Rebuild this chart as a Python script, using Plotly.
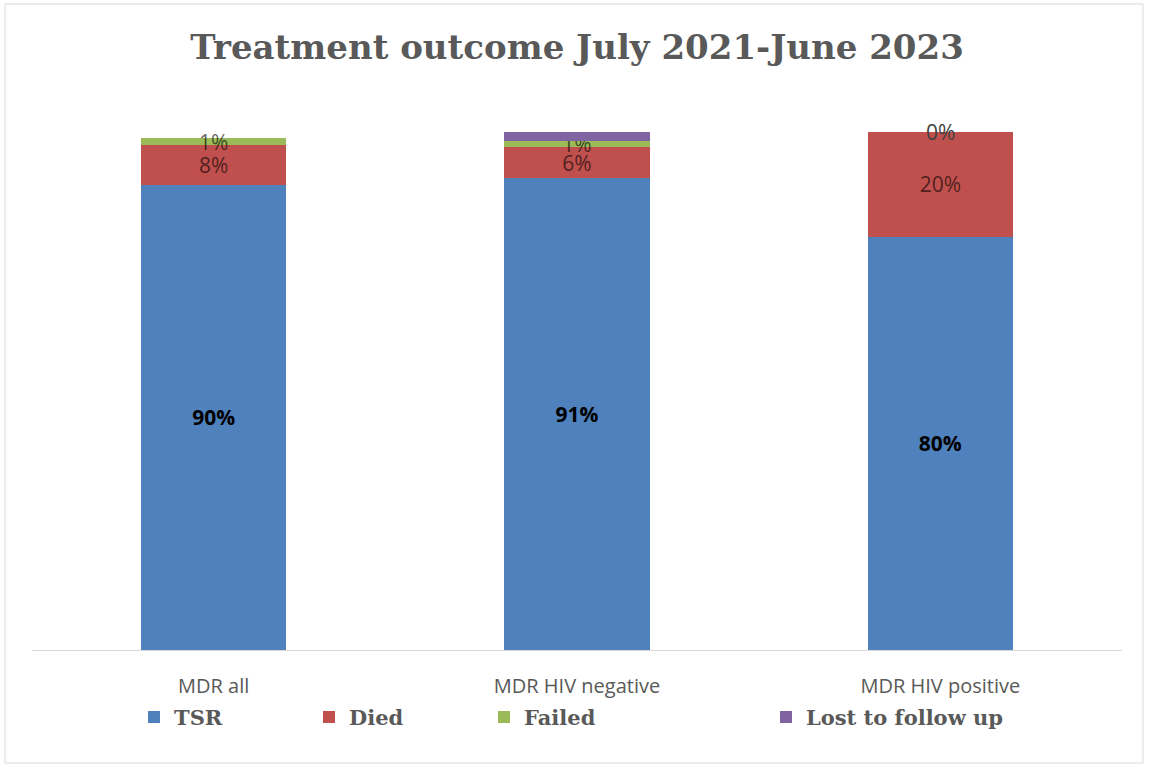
import plotly.graph_objects as go

# Treatment outcome shares (%) per cohort
categories = ["MDR all", "MDR HIV negative", "MDR HIV positive"]
tsr = [89.8, 91.1, 79.8]
died = [7.6, 6.0, 20.2]
failed = [1.4, 1.2, 0.0]
lost = [0.0, 1.7, 0.0]

# which segment labels are printed
show_tsr = [True, True, True]
show_died = [True, True, True]
show_failed = [True, True, True]
show_lost = [False, False, False]

seg_font = dict(color="rgba(0,0,0,0.62)", family="Open Sans", size=21)
series = [
    ("TSR", tsr, show_tsr, "#4f81bd", dict(color="#000000", family="Open Sans", size=19, weight="bold"), "legend"),
    ("Died", died, show_died, "#c0504d", seg_font, "legend2"),
    ("Failed", failed, show_failed, "#9bbb59", seg_font, "legend3"),
    ("Lost to follow up", lost, show_lost, "#8064a2", seg_font, "legend4"),
]

fig = go.Figure()
base = [0.0] * len(categories)
annotations = []
for name, vals, show, color, tfont, leg in series:
    # zero-height segments cannot hold inside text, so their label sits on the stack top
    labels = [f"{v:.0f}%" if (s and v > 0) else "" for v, s in zip(vals, show)]
    for i, (v, s) in enumerate(zip(vals, show)):
        if s and v == 0:
            annotations.append(dict(
                x=categories[i], y=base[i], xref="x", yref="y",
                text=f"{v:.0f}%", showarrow=False, yanchor="middle",
                font=dict(color="#404040", family="Open Sans", size=21),
            ))
    fig.add_trace(go.Bar(
        name=name,
        x=categories,
        y=vals,
        marker=dict(color=color, line=dict(width=0)),
        text=labels,
        textposition="inside",
        insidetextanchor="middle",
        textfont=tfont,
        legend=leg,
        hoverinfo="skip",
    ))
    base = [b + v for b, v in zip(base, vals)]

legend_font = dict(family="DejaVu Serif", size=21, color="#595959", weight="bold")
legend_common = dict(orientation="h", yanchor="middle", y=-0.13, xanchor="left",
                     font=legend_font, bgcolor="rgba(0,0,0,0)", borderwidth=0)

fig.update_layout(
    barmode="stack",
    bargap=0.6,
    width=1149,
    height=769,
    margin=dict(l=32, r=27, t=132, b=119),
    paper_bgcolor="white",
    plot_bgcolor="white",
    uniformtext=dict(mode="show", minsize=21),
    title=dict(
        text="Treatment outcome July 2021-June 2023",
        font=dict(family="DejaVu Serif", size=34, color="#595959", weight="bold"),
        x=0.5, xref="paper", xanchor="center",
        y=1 - 47 / 769, yref="container", yanchor="middle",
    ),
    xaxis=dict(
        showline=True, linecolor="#d9d9d9", linewidth=1,
        showgrid=False, ticks="", ticklabelstandoff=18,
        tickfont=dict(family="Open Sans", size=20, color="#595959"),
    ),
    yaxis=dict(range=[0, 100], visible=False, showgrid=False),
    legend=dict(x=(168 - 34 - 32) / 1090, **legend_common),
    legend2=dict(x=(343 - 34 - 32) / 1090, **legend_common),
    legend3=dict(x=(518 - 34 - 32) / 1090, **legend_common),
    legend4=dict(x=(800 - 34 - 32) / 1090, **legend_common),
    showlegend=True,
    annotations=annotations,
    shapes=[dict(
        type="rect", xref="paper", yref="paper",
        x0=(5 - 32) / 1090, x1=(1143 - 32) / 1090,
        y0=(650 - 763) / 518, y1=(650 - 4) / 518,
        line=dict(color="#d9d9d9", width=1), fillcolor="rgba(0,0,0,0)", layer="below",
    )],
)

fig.write_html("out.html")
